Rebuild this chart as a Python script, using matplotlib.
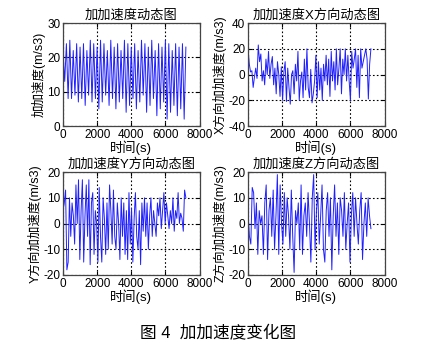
import numpy as np
import matplotlib
matplotlib.use('Agg')
from matplotlib import pyplot as plt

plt.rcParams['font.family'] = ['Liberation Sans', 'Noto Sans CJK SC', 'DejaVu Sans']
plt.rcParams['axes.unicode_minus'] = False

# total jerk: alternating peaks / troughs
jerk = [22, 13, 24, 8, 25, 8, 22, 9, 24, 7, 23, 8, 24, 6, 22, 9, 25, 7, 24, 8,
        23, 5, 25, 7, 24, 9, 22, 6, 25, 8, 23, 5, 24, 7, 22, 8, 25, 4, 24, 6,
        23, 8, 24, 5, 22, 7, 25, 9, 24, 4, 23, 6, 25, 8, 22, 3, 24, 5, 23, 7,
        25, 2, 24, 4, 22, 6, 24, 3, 23, 5, 24, 2, 23]
jerk_x = [20, 8, 2, 3, -10, -2, 5, -3, 23, 10, 16, -5, 3, -8, 12, 0, 18, -3, 8, 14,
          -8, 5, -15, 10, 0, -17, 6, -20, 2, 10, -21, 5, -10, -23, 0, 3, -15, 8, -5, 18,
          -20, -5, 2, -18, 12, -12, 20, -10, -18, 4, -22, -15, -5, 15, -18, 10, -12, 5, -20, 8,
          -5, 15, -8, 12, -17, 18, -5, 10, -12, 20, -8, 5, 20, -15, 12, 0, 20, -5, 15, -5,
          -20, 18, 5, 12, 20, -10, 15, -18, 20, 5, 10, 15, 20, 12, -19, 8, 20]
jerk_y = [5, 8, 13, -18, -15, 10, -5, 8, 3, -8, 15, 0, 17, -14, 5, 17, -15, 3, 15, -5,
          17, -16, 8, 12, -12, 5, 0, -15, 14, -5, -15, 10, 2, -12, 8, -10, 15, 5, -8, 13,
          -5, -10, 8, 0, -14, 10, -5, 8, -12, 5, -14, 12, -8, 6, -15, 2, 12, -5, -10, 5,
          -16, 8, -3, 10, -5, 8, -10, 3, 10, -5, 5, 0, -5, 8, 3, 10, -2, 5, 12, 0,
          8, 3, -2, 5, 0, 10, -3, 5, 2, 12, 0, 4, 2, -3, 13, 10]
jerk_z = [4, -5, -8, 14, 12, -2, 8, -12, 5, 0, 3, -12, 8, 15, -14, 5, 10, -5, 13, -10,
          3, 19, -12, 15, 0, -8, 12, -5, 10, 3, -10, 13, -5, -19, 5, 0, 8, -10, 15, -12,
          3, 8, -5, 12, 0, -15, 10, 19, -10, 5, 12, -8, 3, 15, -10, -15, 5, 12, -5, 10,
          -18, 3, 15, -5, 8, -12, 10, 5, -5, 12, -10, 0, 8, -15, 3, 12, -5, 10, 0, -8,
          5, 12, -14, 0, 8, -5, 10, 3, -2]
t_end = 7200

titles = ['加加速度动态图', '加加速度X方向动态图', '加加速度Y方向动态图', '加加速度Z方向动态图']
ylabels = ['加加速度(m/s3)', 'X方向加加速度(m/s3)', 'Y方向加加速度(m/s3)', 'Z方向加加速度(m/s3)']
ylims = [(0, 30), (-40, 40), (-20, 20), (-20, 20)]
yticks = [[0, 10, 20, 30], [-40, -20, 0, 20, 40], [-20, -10, 0, 10, 20], [-20, -10, 0, 10, 20]]
series = [jerk, jerk_x, jerk_y, jerk_z]

fig = plt.figure(figsize=(4.39, 3.55), dpi=100)
pos = [(0.1435, 0.645), (0.565, 0.645), (0.1435, 0.2254), (0.565, 0.2254)]

for i in range(4):
    ax = fig.add_axes([pos[i][0], pos[i][1], 0.311, 0.290])
    y = series[i]
    t = np.linspace(0, t_end, len(y))
    ax.plot(t, y, color='#2020ff', lw=0.7)
    ax.set_xlim(0, 8000)
    ax.set_ylim(*ylims[i])
    ax.set_xticks([0, 2000, 4000, 6000, 8000])
    ax.set_yticks(yticks[i])
    ax.grid(True, color='black', linestyle=(0, (1.5, 2)), lw=0.8)
    ax.tick_params(direction='in', top=True, right=True, labelsize=8.5, length=3, pad=2)
    for s in ax.spines.values():
        s.set_color('#444444')
        s.set_linewidth(0.9)
    ax.set_title(titles[i], fontsize=9.5, pad=3)
    ax.set_ylabel(ylabels[i], fontsize=9, labelpad=1)
    ax.set_xlabel('时间(s)', fontsize=9.5, labelpad=0)

fig.text(0.497, 0.062, '图 4  加加速度变化图', ha='center', va='center', fontsize=12)

fig.savefig('out.png', dpi=100)
